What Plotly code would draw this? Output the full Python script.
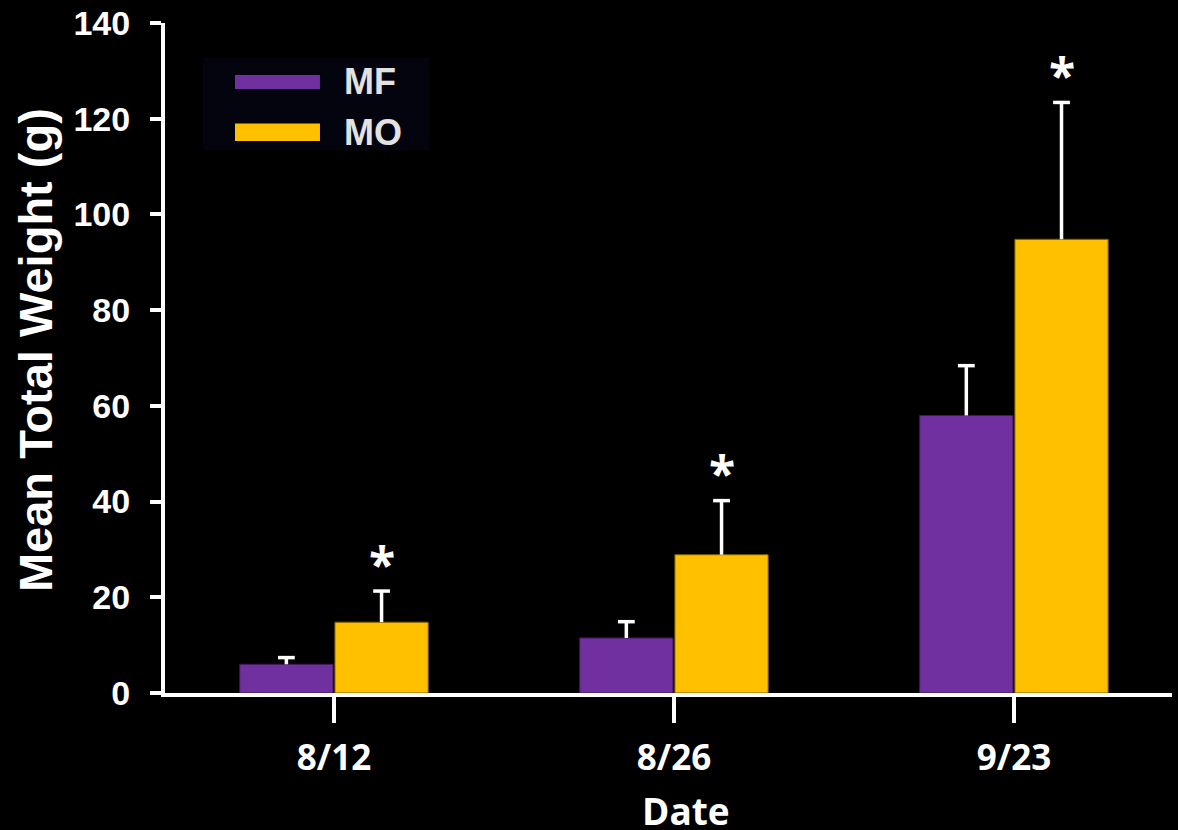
import plotly.graph_objects as go

# Sampling dates and group means with upper standard errors
dates = ["8/12", "8/26", "9/23"]
series_names = ["MF", "MO"]
mf_mean = [6.0, 11.5, 58.0]
mf_err = [1.4, 3.4, 10.4]
mo_mean = [14.8, 28.9, 94.8]
mo_err = [6.5, 11.3, 28.6]
mo_marks = ["*", "*", "*"]
x_title = "Date"
y_title = "Mean Total Weight (g)"

PURPLE = "#7030A0"
GOLD = "#FFC000"
AXIS_FONT = "Liberation Sans"
CAT_FONT = "Open Sans"

fig = go.Figure()

series = [
    (series_names[0], mf_mean, mf_err, PURPLE, "#3f1a5c"),
    (series_names[1], mo_mean, mo_err, GOLD, "#7a5c00"),
]

# Bars with upward error stems (caps are drawn as markers below)
for name, mean, err, color, edge in series:
    fig.add_trace(go.Bar(
        name=name, x=dates, y=mean, offsetgroup=name,
        marker=dict(color=color, line=dict(color=edge, width=1)),
        error_y=dict(type="data", symmetric=False,
                     array=err, arrayminus=[0] * len(err),
                     color="white", thickness=3.5, width=0),
        showlegend=False,
    ))

# Error-bar caps at mean + SE
for name, mean, err, color, edge in series:
    tops = [m + e for m, e in zip(mean, err)]
    fig.add_trace(go.Scatter(
        x=dates, y=tops, offsetgroup=name, mode="markers",
        marker=dict(symbol="line-ew", size=12,
                    line=dict(color="white", width=3.5)),
        showlegend=False, hoverinfo="skip",
    ))

# Significance marks above the MO error bars (MO bars sit right of centre)
for d, m, e, s in zip(dates, mo_mean, mo_err, mo_marks):
    fig.add_annotation(
        x=d, y=m + e, text=s, showarrow=False,
        xshift=48, yshift=28, yanchor="middle",
        font=dict(family=CAT_FONT, size=48, color="white", weight="bold"),
    )

# Legend block with wide swatches
fig.add_shape(type="rect", xref="paper", yref="paper",
              x0=0.0377, x1=0.263, y0=0.810, y1=0.948,
              fillcolor="#04040e", line=dict(width=0), layer="below")
for name, color, yc, h in [(series_names[0], PURPLE, 0.912, 0.021),
                           (series_names[1], GOLD, 0.837, 0.026)]:
    fig.add_shape(type="rect", xref="paper", yref="paper",
                  x0=0.0695, x1=0.1539, y0=yc - h / 2, y1=yc + h / 2,
                  fillcolor=color, line=dict(width=0))
    fig.add_annotation(
        xref="paper", yref="paper", x=0.176, y=yc, text=name,
        showarrow=False, xanchor="left", yanchor="middle",
        font=dict(family=AXIS_FONT, size=36, color="#e2e2e2", weight="bold"),
    )

# Axis titles
fig.add_annotation(
    xref="paper", yref="paper", x=0.517, y=-0.176, text=x_title,
    showarrow=False, xanchor="center", yanchor="middle",
    font=dict(family=CAT_FONT, size=37, color="white", weight="bold"),
)
fig.add_annotation(
    xref="paper", yref="paper", x=-0.128, y=0.512, text=y_title,
    textangle=-90, showarrow=False, xanchor="center", yanchor="middle",
    font=dict(family=AXIS_FONT, size=47, color="white", weight="bold"),
)

fig.update_layout(
    width=1178, height=830,
    margin=dict(l=165, r=6, t=23, b=137),
    paper_bgcolor="black", plot_bgcolor="black",
    barmode="group", bargap=0.44, bargroupgap=0.02,
    scattermode="group", scattergap=0.44,
    xaxis=dict(
        type="category", range=[-0.497, 2.465], automargin=False,
        showline=True, linecolor="white", linewidth=4,
        ticks="outside", ticklen=26, tickwidth=4, tickcolor="white",
        ticklabelstandoff=5,
        tickfont=dict(family=CAT_FONT, size=35, color="white", weight="bold"),
        showgrid=False, zeroline=False,
    ),
    yaxis=dict(
        range=[0, 140], tickvals=[0, 20, 40, 60, 80, 100, 120, 140], automargin=False,
        showline=True, linecolor="white", linewidth=4,
        ticks="outside", ticklen=11, tickwidth=4, tickcolor="white",
        ticklabelstandoff=13,
        tickfont=dict(family=AXIS_FONT, size=34, color="white", weight="bold"),
        showgrid=False, zeroline=False,
    ),
)

fig.write_html("out.html")
